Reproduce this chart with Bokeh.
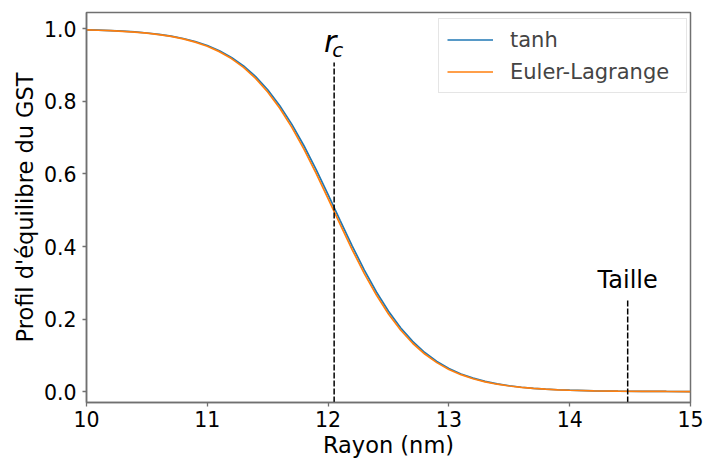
from bokeh.plotting import figure
from bokeh.models import (Range1d, FixedTicker, Legend, LegendItem,
                          PrintfTickFormatter, ColumnDataSource)
from bokeh.core.properties import value
from bokeh.embed import file_html
from bokeh.resources import INLINE

# ---- data ----
rayon = [10.0, 10.1, 10.2, 10.3, 10.4, 10.5, 10.6, 10.7, 10.8, 10.9,
         11.0, 11.1, 11.2, 11.3, 11.4, 11.5, 11.6, 11.7, 11.8, 11.9,
         12.0, 12.1, 12.2, 12.3, 12.4, 12.5, 12.6, 12.7, 12.8, 12.9,
         13.0, 13.1, 13.2, 13.3, 13.4, 13.5, 13.6, 13.7, 13.8, 13.9,
         14.0, 14.2, 14.4, 14.6, 14.8, 15.0]
tanh_vals = [0.9972, 0.9963, 0.9951, 0.9935, 0.9914, 0.9885, 0.9848, 0.9799, 0.9734, 0.9649,
             0.9539, 0.9395, 0.9211, 0.8977, 0.8683, 0.8320, 0.7882, 0.7366, 0.6777, 0.6123,
             0.5428, 0.4715, 0.4013, 0.3350, 0.2746, 0.2215, 0.1761, 0.1384, 0.1077, 0.0832,
             0.0638, 0.0487, 0.0371, 0.0281, 0.0213, 0.0161, 0.0121, 0.0091, 0.0069, 0.0052,
             0.0039, 0.0022, 0.0012, 0.0007, 0.0004, 0.0002]
euler_vals = [0.9971, 0.9961, 0.9949, 0.9932, 0.9910, 0.9880, 0.9842, 0.9791, 0.9723, 0.9634,
              0.9520, 0.9371, 0.9180, 0.8938, 0.8634, 0.8260, 0.7810, 0.7283, 0.6683, 0.6021,
              0.5322, 0.4608, 0.3910, 0.3254, 0.2661, 0.2141, 0.1699, 0.1333, 0.1036, 0.0799,
              0.0612, 0.0467, 0.0356, 0.0269, 0.0204, 0.0154, 0.0116, 0.0087, 0.0066, 0.0050,
              0.0037, 0.0021, 0.0012, 0.0007, 0.0004, 0.0002]

series_labels = ["tanh", "Euler-Lagrange"]
series_colors = ["#1f77b4", "#ff7f0e"]

# dashed markers: r_c and "Taille"
vline_x = [12.05, 14.48]
vline_top = [0.907, 0.252]

# annotation texts and their anchor positions (data units)
rc_main, rc_sub = "r", "c"
rc_main_pos = (12.018, 0.964)
rc_sub_pos = (12.035, 0.942)
taille_text = "Taille"
taille_pos = (14.48, 0.3085)

x_ticks = [10, 11, 12, 13, 14, 15]
y_ticks = [0.0, 0.2, 0.4, 0.6, 0.8, 1.0]
x_min, x_max = 10.0, 15.0
y_min, y_max = -0.030, 1.045

x_label = "Rayon (nm)"
y_label = "Profil d'équilibre du GST"

FONT = "DejaVu Sans"
SPINE = "#707070"

p = figure(width=704, height=463, output_backend="svg", toolbar_location=None,
           title=None,
           x_range=Range1d(x_min, x_max), y_range=Range1d(y_min, y_max),
           min_border_left=86, min_border_right=14, min_border_top=12,
           min_border_bottom=61)
p.grid.visible = False
p.outline_line_color = SPINE
p.outline_line_width = 1.5
p.outline_line_alpha = 1.0

for ax in (p.xaxis[0], p.yaxis[0]):
    ax.axis_line_color = SPINE
    ax.axis_line_width = 1.5
    ax.major_tick_line_color = SPINE
    ax.major_tick_line_width = 1.3
    ax.major_tick_in = 0
    ax.major_tick_out = 4
    ax.minor_tick_line_color = None
    ax.major_label_text_font = FONT
    ax.major_label_text_font_size = "20.5px"
    ax.major_label_text_color = "black"
    ax.axis_label_text_font = FONT
    ax.axis_label_text_font_size = "22.5px"
    ax.axis_label_text_font_style = "normal"
    ax.axis_label_text_color = "black"

p.xaxis.major_label_standoff = 4
p.yaxis.major_label_standoff = 6
p.xaxis.axis_label_standoff = 2
p.yaxis.axis_label_standoff = 3

p.xaxis.ticker = FixedTicker(ticks=x_ticks)
p.yaxis.ticker = FixedTicker(ticks=y_ticks)
p.yaxis.formatter = PrintfTickFormatter(format="%.1f")
p.xaxis.axis_label = x_label
p.yaxis.axis_label = y_label

src = ColumnDataSource(dict(r=rayon, t=tanh_vals, e=euler_vals))
r1 = p.line("r", "t", source=src, line_color=series_colors[0], line_width=1.7)
r2 = p.line("r", "e", source=src, line_color=series_colors[1], line_width=1.7)

vsrc = ColumnDataSource(dict(x=vline_x, top=vline_top, bot=[y_min] * len(vline_x)))
p.segment(x0="x", y0="bot", x1="x", y1="top", source=vsrc, line_color="black",
          line_width=1.5, line_dash="6 2")

# r_c label (italic r with subscript c)
p.text(x=[rc_main_pos[0]], y=[rc_main_pos[1]], text=[rc_main], text_font=value(FONT),
       text_font_style="italic", text_font_size="30px", text_align="center",
       text_baseline="alphabetic", text_color="black")
p.text(x=[rc_sub_pos[0]], y=[rc_sub_pos[1]], text=[rc_sub], text_font=value(FONT),
       text_font_style="italic", text_font_size="20px", text_align="left",
       text_baseline="alphabetic", text_color="black")
# Taille label
p.text(x=[taille_pos[0]], y=[taille_pos[1]], text=[taille_text], text_font=value(FONT),
       text_font_size="24px", text_align="center", text_baseline="alphabetic",
       text_color="black")

legend = Legend(items=[LegendItem(label=series_labels[0], renderers=[r1]),
                       LegendItem(label=series_labels[1], renderers=[r2])],
                location=(352, 309),
                label_text_font=FONT, label_text_font_size="21px",
                glyph_width=46, glyph_height=25, label_height=25,
                label_width=168,
                label_standoff=17, spacing=7, padding=8, margin=0,
                border_line_color="#cccccc", border_line_width=1,
                background_fill_color="white", background_fill_alpha=0.8)
p.add_layout(legend)

open("out.html", "w").write(file_html(p, INLINE))
